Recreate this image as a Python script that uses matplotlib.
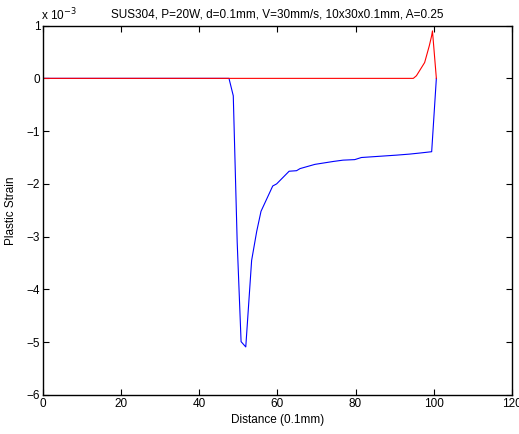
import matplotlib
matplotlib.use('Agg')
import matplotlib.pyplot as plt

# distance (0.1mm) and plastic strain (x 1e-3)
blue_x = [0, 47.6, 48.7, 49.7, 50.7, 51.9, 53.4, 54.7, 55.8, 58.8, 59.8, 63.0,
          64.9, 65.8, 69.6, 74.3, 76.8, 79.8, 81.5, 87.5, 90.5, 93.9, 96.5,
          99.5, 100.7]
blue_y = [0, 0, -0.33, -3.1, -4.99, -5.09, -3.45, -2.9, -2.52, -2.04, -2.0, -1.76,
          -1.75, -1.71, -1.63, -1.575, -1.55, -1.54, -1.50, -1.47, -1.455, -1.435,
          -1.415, -1.39, 0]

red_x = [0, 94.8, 95.6, 97.7, 98.9, 99.5, 99.7, 100.7]
red_y = [0, 0, 0.05, 0.30, 0.62, 0.81, 0.90, 0]

xticks = [0, 20, 40, 60, 80, 100, 120]
yticks = [-6, -5, -4, -3, -2, -1, 0, 1]

plt.rcParams['font.family'] = ['Liberation Sans', 'DejaVu Sans']
plt.rcParams['font.size'] = 8.5

fig = plt.figure(figsize=(5.19, 4.34), dpi=100)
ax = fig.add_axes([0.083, 0.090, 0.903, 0.851])

ax.plot(blue_x, blue_y, color=(0, 0, 1), linewidth=0.8)
ax.plot(red_x, red_y, color=(1, 0, 0), linewidth=0.8)

ax.set_xlim(0, 120)
ax.set_ylim(-6, 1)
ax.set_xticks(xticks)
ax.set_yticks(yticks)
ax.tick_params(direction='in', length=4, width=0.8, top=True, right=True,
               pad=2, labelsize=8.5)
for s in ax.spines.values():
    s.set_linewidth(1.0)

ax.set_xlabel('Distance (0.1mm)', fontsize=8.5, labelpad=3)
ax.set_ylabel('Plastic Strain', fontsize=8.5, labelpad=7)
ax.set_title('SUS304, P=20W, d=0.1mm, V=30mm/s, 10x30x0.1mm, A=0.25',
             fontsize=8.5, pad=6)
fig.text(0.079, 0.965, r'x 10$^{-3}$', fontsize=8.5, ha='left', va='center')

fig.savefig('out.png', dpi=100)
